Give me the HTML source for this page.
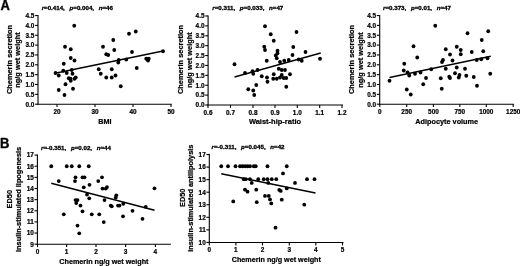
<!DOCTYPE html>
<html><head><meta charset="utf-8"><title>Figure</title>
<style>
html,body{margin:0;padding:0;background:#fff;}
body{width:520px;height:266px;overflow:hidden;}
svg{display:block;font-family:"Liberation Sans",sans-serif;font-weight:bold;fill:#000;}
text{stroke:#000;stroke-width:0.22px;stroke-linejoin:round;}
</style></head><body>
<svg width="520" height="266" viewBox="0 0 520 266">
<defs><filter id="bl" x="0" y="0" width="520" height="266" filterUnits="userSpaceOnUse"><feGaussianBlur stdDeviation="0.3"/></filter></defs>
<rect width="520" height="266" fill="#fff"/>
<g filter="url(#bl)">
<line x1="38" y1="15.0" x2="38" y2="104.75" stroke="#000" stroke-width="1.1"/>
<line x1="37.45" y1="104.2" x2="171.8" y2="104.2" stroke="#000" stroke-width="1.1"/>
<line x1="57" y1="104.2" x2="57" y2="107.10000000000001" stroke="#000" stroke-width="1.1"/>
<text transform="translate(57 113.7)" font-size="6.4" text-anchor="middle">20</text>
<line x1="95" y1="104.2" x2="95" y2="107.10000000000001" stroke="#000" stroke-width="1.1"/>
<text transform="translate(95 113.7)" font-size="6.4" text-anchor="middle">30</text>
<line x1="133" y1="104.2" x2="133" y2="107.10000000000001" stroke="#000" stroke-width="1.1"/>
<text transform="translate(133 113.7)" font-size="6.4" text-anchor="middle">40</text>
<line x1="171" y1="104.2" x2="171" y2="107.10000000000001" stroke="#000" stroke-width="1.1"/>
<text transform="translate(171 113.7)" font-size="6.4" text-anchor="middle">50</text>
<line x1="35.1" y1="104.2" x2="38" y2="104.2" stroke="#000" stroke-width="1.1"/>
<text transform="translate(34.4 106.5)" font-size="6.4" text-anchor="end">0.0</text>
<line x1="35.1" y1="94.35000000000001" x2="38" y2="94.35000000000001" stroke="#000" stroke-width="1.1"/>
<text transform="translate(34.4 96.65)" font-size="6.4" text-anchor="end">0.5</text>
<line x1="35.1" y1="84.5" x2="38" y2="84.5" stroke="#000" stroke-width="1.1"/>
<text transform="translate(34.4 86.8)" font-size="6.4" text-anchor="end">1.0</text>
<line x1="35.1" y1="74.65" x2="38" y2="74.65" stroke="#000" stroke-width="1.1"/>
<text transform="translate(34.4 76.95)" font-size="6.4" text-anchor="end">1.5</text>
<line x1="35.1" y1="64.80000000000001" x2="38" y2="64.80000000000001" stroke="#000" stroke-width="1.1"/>
<text transform="translate(34.4 67.10000000000001)" font-size="6.4" text-anchor="end">2.0</text>
<line x1="35.1" y1="54.95" x2="38" y2="54.95" stroke="#000" stroke-width="1.1"/>
<text transform="translate(34.4 57.25)" font-size="6.4" text-anchor="end">2.5</text>
<line x1="35.1" y1="45.10000000000001" x2="38" y2="45.10000000000001" stroke="#000" stroke-width="1.1"/>
<text transform="translate(34.4 47.400000000000006)" font-size="6.4" text-anchor="end">3.0</text>
<line x1="35.1" y1="35.25" x2="38" y2="35.25" stroke="#000" stroke-width="1.1"/>
<text transform="translate(34.4 37.55)" font-size="6.4" text-anchor="end">3.5</text>
<line x1="35.1" y1="25.400000000000006" x2="38" y2="25.400000000000006" stroke="#000" stroke-width="1.1"/>
<text transform="translate(34.4 27.700000000000006)" font-size="6.4" text-anchor="end">4.0</text>
<line x1="35.1" y1="15.550000000000011" x2="38" y2="15.550000000000011" stroke="#000" stroke-width="1.1"/>
<text transform="translate(34.4 17.850000000000012)" font-size="6.4" text-anchor="end">4.5</text>
<circle cx="74.25" cy="25.75" r="1.9"/>
<circle cx="65" cy="46.75" r="1.9"/>
<circle cx="70.75" cy="49.25" r="1.9"/>
<circle cx="70.75" cy="58" r="1.9"/>
<circle cx="74.5" cy="60.5" r="1.9"/>
<circle cx="63.75" cy="63.75" r="1.9"/>
<circle cx="129" cy="33.75" r="1.9"/>
<circle cx="113.25" cy="40" r="1.9"/>
<circle cx="103" cy="46.75" r="1.9"/>
<circle cx="114.25" cy="50" r="1.9"/>
<circle cx="106.25" cy="54.25" r="1.9"/>
<circle cx="108.25" cy="55" r="1.9"/>
<circle cx="118.75" cy="60" r="1.9"/>
<circle cx="126.25" cy="59.5" r="1.9"/>
<circle cx="118.25" cy="62.5" r="1.9"/>
<circle cx="135.75" cy="31.5" r="1.9"/>
<circle cx="132" cy="52" r="1.9"/>
<circle cx="163" cy="51.25" r="1.9"/>
<circle cx="146.25" cy="58.75" r="1.9"/>
<circle cx="148.75" cy="58.75" r="1.9"/>
<circle cx="148" cy="60.5" r="1.9"/>
<circle cx="55.5" cy="73" r="1.9"/>
<circle cx="58.75" cy="75.5" r="1.9"/>
<circle cx="63.25" cy="70.75" r="1.9"/>
<circle cx="66.75" cy="73" r="1.9"/>
<circle cx="71.75" cy="70" r="1.9"/>
<circle cx="72.5" cy="73.75" r="1.9"/>
<circle cx="75.75" cy="77.5" r="1.9"/>
<circle cx="74.5" cy="78.75" r="1.9"/>
<circle cx="68.75" cy="78.25" r="1.9"/>
<circle cx="70.75" cy="80.75" r="1.9"/>
<circle cx="70.5" cy="78.6" r="1.9"/>
<circle cx="65.5" cy="84.25" r="1.9"/>
<circle cx="73" cy="88.75" r="1.9"/>
<circle cx="58.75" cy="90" r="1.9"/>
<circle cx="64.5" cy="95" r="1.9"/>
<circle cx="98.75" cy="69.25" r="1.9"/>
<circle cx="100.75" cy="73.75" r="1.9"/>
<circle cx="111.75" cy="69.25" r="1.9"/>
<circle cx="106.25" cy="77.5" r="1.9"/>
<circle cx="111.75" cy="77.5" r="1.9"/>
<circle cx="115.5" cy="75.5" r="1.9"/>
<circle cx="120.75" cy="86.25" r="1.9"/>
<circle cx="136.75" cy="68" r="1.9"/>
<line x1="54" y1="73.5" x2="163" y2="51" stroke="#000" stroke-width="1.3"/>
<text transform="translate(104.8 124.0)" font-size="7.2" text-anchor="middle">BMI</text>
<text transform="translate(12.4 59.5) rotate(-90) scale(1.09 1)" font-size="6.8" text-anchor="middle">Chemerin secretion</text>
<text transform="translate(20.0 60.0) rotate(-90) scale(1.09 1)" font-size="6.8" text-anchor="middle">ng/g wet weight</text>
<text transform="translate(77.3 10.4) scale(1.105 1)" font-size="5.6" text-anchor="middle" style="stroke-width:0.3px"><tspan font-style="italic">r</tspan>=0.414,&#160; <tspan font-style="italic" dx="1.1">p</tspan>=0.004,&#160; <tspan font-style="italic" dx="1.1">n</tspan>=46</text>
<line x1="208.1" y1="15.5" x2="208.1" y2="105.55" stroke="#000" stroke-width="1.1"/>
<line x1="207.54999999999998" y1="105" x2="343.0" y2="105" stroke="#000" stroke-width="1.1"/>
<line x1="208" y1="105" x2="208" y2="107.9" stroke="#000" stroke-width="1.1"/>
<text transform="translate(208 114.5)" font-size="6.4" text-anchor="middle">0.6</text>
<line x1="230.5" y1="105" x2="230.5" y2="107.9" stroke="#000" stroke-width="1.1"/>
<text transform="translate(230.5 114.5)" font-size="6.4" text-anchor="middle">0.7</text>
<line x1="253" y1="105" x2="253" y2="107.9" stroke="#000" stroke-width="1.1"/>
<text transform="translate(253 114.5)" font-size="6.4" text-anchor="middle">0.8</text>
<line x1="275" y1="105" x2="275" y2="107.9" stroke="#000" stroke-width="1.1"/>
<text transform="translate(275 114.5)" font-size="6.4" text-anchor="middle">0.9</text>
<line x1="297.3" y1="105" x2="297.3" y2="107.9" stroke="#000" stroke-width="1.1"/>
<text transform="translate(297.3 114.5)" font-size="6.4" text-anchor="middle">1.0</text>
<line x1="319.7" y1="105" x2="319.7" y2="107.9" stroke="#000" stroke-width="1.1"/>
<text transform="translate(319.7 114.5)" font-size="6.4" text-anchor="middle">1.1</text>
<line x1="342" y1="105" x2="342" y2="107.9" stroke="#000" stroke-width="1.1"/>
<text transform="translate(342 114.5)" font-size="6.4" text-anchor="middle">1.2</text>
<line x1="205.2" y1="105.0" x2="208.1" y2="105.0" stroke="#000" stroke-width="1.1"/>
<text transform="translate(204.5 107.3)" font-size="6.4" text-anchor="end">0.0</text>
<line x1="205.2" y1="95.11" x2="208.1" y2="95.11" stroke="#000" stroke-width="1.1"/>
<text transform="translate(204.5 97.41)" font-size="6.4" text-anchor="end">0.5</text>
<line x1="205.2" y1="85.22" x2="208.1" y2="85.22" stroke="#000" stroke-width="1.1"/>
<text transform="translate(204.5 87.52)" font-size="6.4" text-anchor="end">1.0</text>
<line x1="205.2" y1="75.33" x2="208.1" y2="75.33" stroke="#000" stroke-width="1.1"/>
<text transform="translate(204.5 77.63)" font-size="6.4" text-anchor="end">1.5</text>
<line x1="205.2" y1="65.44" x2="208.1" y2="65.44" stroke="#000" stroke-width="1.1"/>
<text transform="translate(204.5 67.74)" font-size="6.4" text-anchor="end">2.0</text>
<line x1="205.2" y1="55.55" x2="208.1" y2="55.55" stroke="#000" stroke-width="1.1"/>
<text transform="translate(204.5 57.849999999999994)" font-size="6.4" text-anchor="end">2.5</text>
<line x1="205.2" y1="45.66" x2="208.1" y2="45.66" stroke="#000" stroke-width="1.1"/>
<text transform="translate(204.5 47.959999999999994)" font-size="6.4" text-anchor="end">3.0</text>
<line x1="205.2" y1="35.769999999999996" x2="208.1" y2="35.769999999999996" stroke="#000" stroke-width="1.1"/>
<text transform="translate(204.5 38.06999999999999)" font-size="6.4" text-anchor="end">3.5</text>
<line x1="205.2" y1="25.879999999999995" x2="208.1" y2="25.879999999999995" stroke="#000" stroke-width="1.1"/>
<text transform="translate(204.5 28.179999999999996)" font-size="6.4" text-anchor="end">4.0</text>
<line x1="205.2" y1="15.989999999999995" x2="208.1" y2="15.989999999999995" stroke="#000" stroke-width="1.1"/>
<text transform="translate(204.5 18.289999999999996)" font-size="6.4" text-anchor="end">4.5</text>
<circle cx="265" cy="26.25" r="1.9"/>
<circle cx="270.75" cy="34.25" r="1.9"/>
<circle cx="273.75" cy="40.75" r="1.9"/>
<circle cx="264.25" cy="46.75" r="1.9"/>
<circle cx="265" cy="50" r="1.9"/>
<circle cx="277.5" cy="50.75" r="1.9"/>
<circle cx="277.5" cy="53.25" r="1.9"/>
<circle cx="275.75" cy="55.5" r="1.9"/>
<circle cx="276.75" cy="58.25" r="1.9"/>
<circle cx="266.75" cy="60.75" r="1.9"/>
<circle cx="296.5" cy="32" r="1.9"/>
<circle cx="293.25" cy="47" r="1.9"/>
<circle cx="292.5" cy="55" r="1.9"/>
<circle cx="280" cy="62" r="1.9"/>
<circle cx="284.25" cy="60.75" r="1.9"/>
<circle cx="288.75" cy="60" r="1.9"/>
<circle cx="234.5" cy="64.25" r="1.9"/>
<circle cx="298.75" cy="59.5" r="1.9"/>
<circle cx="305.5" cy="52" r="1.9"/>
<circle cx="301.75" cy="60.75" r="1.9"/>
<circle cx="320" cy="58.75" r="1.9"/>
<circle cx="245" cy="73" r="1.9"/>
<circle cx="252.5" cy="71.25" r="1.9"/>
<circle cx="253.25" cy="73.75" r="1.9"/>
<circle cx="257.5" cy="70" r="1.9"/>
<circle cx="261.75" cy="76.25" r="1.9"/>
<circle cx="267" cy="77.5" r="1.9"/>
<circle cx="267.5" cy="81.75" r="1.9"/>
<circle cx="256.25" cy="85" r="1.9"/>
<circle cx="248.25" cy="89.25" r="1.9"/>
<circle cx="253.25" cy="90.5" r="1.9"/>
<circle cx="254.25" cy="95" r="1.9"/>
<circle cx="273.75" cy="74.25" r="1.9"/>
<circle cx="273.25" cy="78.75" r="1.9"/>
<circle cx="276.75" cy="78.75" r="1.9"/>
<circle cx="280" cy="77.5" r="1.9"/>
<circle cx="281.75" cy="75" r="1.9"/>
<circle cx="283.75" cy="78" r="1.9"/>
<circle cx="286.25" cy="78" r="1.9"/>
<circle cx="278.75" cy="68.75" r="1.9"/>
<circle cx="281.75" cy="70" r="1.9"/>
<circle cx="285" cy="70" r="1.9"/>
<circle cx="290" cy="74.25" r="1.9"/>
<circle cx="286.25" cy="86.75" r="1.9"/>
<line x1="234.5" y1="77" x2="320.75" y2="53" stroke="#000" stroke-width="1.3"/>
<text transform="translate(275 124.0)" font-size="7.5" text-anchor="middle">Waist-hip-ratio</text>
<text transform="translate(182.7 59.5) rotate(-90) scale(1.09 1)" font-size="6.8" text-anchor="middle">Chemerin secretion</text>
<text transform="translate(192.0 60.0) rotate(-90) scale(1.09 1)" font-size="6.8" text-anchor="middle">ng/g wet weight</text>
<text transform="translate(247.8 10.3) scale(1.105 1)" font-size="5.6" text-anchor="middle" style="stroke-width:0.3px"><tspan font-style="italic">r</tspan>=0.311,&#160; <tspan font-style="italic" dx="1.1">p</tspan>=0.033,&#160; <tspan font-style="italic" dx="1.1">n</tspan>=47</text>
<line x1="379.7" y1="15.0" x2="379.7" y2="104.75" stroke="#000" stroke-width="1.1"/>
<line x1="379.15" y1="104.2" x2="514.1" y2="104.2" stroke="#000" stroke-width="1.1"/>
<line x1="379.8" y1="104.2" x2="379.8" y2="107.10000000000001" stroke="#000" stroke-width="1.1"/>
<text transform="translate(379.8 113.7)" font-size="6.4" text-anchor="middle">0</text>
<line x1="406.7" y1="104.2" x2="406.7" y2="107.10000000000001" stroke="#000" stroke-width="1.1"/>
<text transform="translate(406.7 113.7)" font-size="6.4" text-anchor="middle">250</text>
<line x1="433.4" y1="104.2" x2="433.4" y2="107.10000000000001" stroke="#000" stroke-width="1.1"/>
<text transform="translate(433.4 113.7)" font-size="6.4" text-anchor="middle">500</text>
<line x1="459.8" y1="104.2" x2="459.8" y2="107.10000000000001" stroke="#000" stroke-width="1.1"/>
<text transform="translate(459.8 113.7)" font-size="6.4" text-anchor="middle">750</text>
<line x1="486.3" y1="104.2" x2="486.3" y2="107.10000000000001" stroke="#000" stroke-width="1.1"/>
<text transform="translate(486.3 113.7)" font-size="6.4" text-anchor="middle">1000</text>
<line x1="513.2" y1="104.2" x2="513.2" y2="107.10000000000001" stroke="#000" stroke-width="1.1"/>
<text transform="translate(513.2 113.7)" font-size="6.4" text-anchor="middle">1250</text>
<line x1="376.8" y1="104.2" x2="379.7" y2="104.2" stroke="#000" stroke-width="1.1"/>
<text transform="translate(376.09999999999997 106.5)" font-size="6.4" text-anchor="end">0.0</text>
<line x1="376.8" y1="94.35000000000001" x2="379.7" y2="94.35000000000001" stroke="#000" stroke-width="1.1"/>
<text transform="translate(376.09999999999997 96.65)" font-size="6.4" text-anchor="end">0.5</text>
<line x1="376.8" y1="84.5" x2="379.7" y2="84.5" stroke="#000" stroke-width="1.1"/>
<text transform="translate(376.09999999999997 86.8)" font-size="6.4" text-anchor="end">1.0</text>
<line x1="376.8" y1="74.65" x2="379.7" y2="74.65" stroke="#000" stroke-width="1.1"/>
<text transform="translate(376.09999999999997 76.95)" font-size="6.4" text-anchor="end">1.5</text>
<line x1="376.8" y1="64.80000000000001" x2="379.7" y2="64.80000000000001" stroke="#000" stroke-width="1.1"/>
<text transform="translate(376.09999999999997 67.10000000000001)" font-size="6.4" text-anchor="end">2.0</text>
<line x1="376.8" y1="54.95" x2="379.7" y2="54.95" stroke="#000" stroke-width="1.1"/>
<text transform="translate(376.09999999999997 57.25)" font-size="6.4" text-anchor="end">2.5</text>
<line x1="376.8" y1="45.10000000000001" x2="379.7" y2="45.10000000000001" stroke="#000" stroke-width="1.1"/>
<text transform="translate(376.09999999999997 47.400000000000006)" font-size="6.4" text-anchor="end">3.0</text>
<line x1="376.8" y1="35.25" x2="379.7" y2="35.25" stroke="#000" stroke-width="1.1"/>
<text transform="translate(376.09999999999997 37.55)" font-size="6.4" text-anchor="end">3.5</text>
<line x1="376.8" y1="25.400000000000006" x2="379.7" y2="25.400000000000006" stroke="#000" stroke-width="1.1"/>
<text transform="translate(376.09999999999997 27.700000000000006)" font-size="6.4" text-anchor="end">4.0</text>
<line x1="376.8" y1="15.550000000000011" x2="379.7" y2="15.550000000000011" stroke="#000" stroke-width="1.1"/>
<text transform="translate(376.09999999999997 17.850000000000012)" font-size="6.4" text-anchor="end">4.5</text>
<circle cx="435.25" cy="25.75" r="1.9"/>
<circle cx="413.5" cy="46.25" r="1.9"/>
<circle cx="417.25" cy="57.5" r="1.9"/>
<circle cx="404.25" cy="63.75" r="1.9"/>
<circle cx="467.5" cy="33.25" r="1.9"/>
<circle cx="456.75" cy="46.75" r="1.9"/>
<circle cx="445.75" cy="49.25" r="1.9"/>
<circle cx="460.75" cy="50" r="1.9"/>
<circle cx="450" cy="54.5" r="1.9"/>
<circle cx="460.75" cy="54.25" r="1.9"/>
<circle cx="443" cy="60" r="1.9"/>
<circle cx="442" cy="62" r="1.9"/>
<circle cx="452.5" cy="60.5" r="1.9"/>
<circle cx="488.25" cy="31.25" r="1.9"/>
<circle cx="481.75" cy="40" r="1.9"/>
<circle cx="471.75" cy="52" r="1.9"/>
<circle cx="483.25" cy="51.25" r="1.9"/>
<circle cx="476.75" cy="60" r="1.9"/>
<circle cx="481.25" cy="59.25" r="1.9"/>
<circle cx="487.5" cy="58.25" r="1.9"/>
<circle cx="403.75" cy="70.5" r="1.9"/>
<circle cx="407.5" cy="72.5" r="1.9"/>
<circle cx="409.25" cy="75.5" r="1.9"/>
<circle cx="415" cy="73.75" r="1.9"/>
<circle cx="420.5" cy="72.5" r="1.9"/>
<circle cx="431.25" cy="69.25" r="1.9"/>
<circle cx="389.5" cy="80.75" r="1.9"/>
<circle cx="426" cy="78" r="1.9"/>
<circle cx="423.25" cy="84.25" r="1.9"/>
<circle cx="406.75" cy="89.5" r="1.9"/>
<circle cx="410.75" cy="94.5" r="1.9"/>
<circle cx="440.75" cy="78.25" r="1.9"/>
<circle cx="441.75" cy="88.75" r="1.9"/>
<circle cx="445.75" cy="68.75" r="1.9"/>
<circle cx="449.25" cy="76.75" r="1.9"/>
<circle cx="450" cy="78" r="1.9"/>
<circle cx="455" cy="73.25" r="1.9"/>
<circle cx="456.75" cy="67.5" r="1.9"/>
<circle cx="459.5" cy="75" r="1.9"/>
<circle cx="458.75" cy="77.5" r="1.9"/>
<circle cx="465" cy="68.75" r="1.9"/>
<circle cx="466.25" cy="75.75" r="1.9"/>
<circle cx="473.75" cy="77" r="1.9"/>
<circle cx="477" cy="85.75" r="1.9"/>
<circle cx="490.25" cy="73.75" r="1.9"/>
<line x1="389.5" y1="77.5" x2="490.75" y2="56.25" stroke="#000" stroke-width="1.3"/>
<text transform="translate(446.7 124.0)" font-size="7.3" text-anchor="middle">Adipocyte volume</text>
<text transform="translate(354.4 59.5) rotate(-90) scale(1.09 1)" font-size="6.8" text-anchor="middle">Chemerin secretion</text>
<text transform="translate(363.0 60.0) rotate(-90) scale(1.09 1)" font-size="6.8" text-anchor="middle">ng/g wet weight</text>
<text transform="translate(417 10.4) scale(1.105 1)" font-size="5.6" text-anchor="middle" style="stroke-width:0.3px"><tspan font-style="italic">r</tspan>=0.373,&#160; <tspan font-style="italic" dx="1.1">p</tspan>=0.01,&#160; <tspan font-style="italic" dx="1.1">n</tspan>=47</text>
<line x1="37.4" y1="154.5" x2="37.4" y2="244.75" stroke="#000" stroke-width="1.1"/>
<line x1="36.85" y1="244.2" x2="170.9" y2="244.2" stroke="#000" stroke-width="1.1"/>
<line x1="37.5" y1="244.2" x2="37.5" y2="247.1" stroke="#000" stroke-width="1.1"/>
<text transform="translate(37.5 253.7)" font-size="6.4" text-anchor="middle">0</text>
<line x1="66.6" y1="244.2" x2="66.6" y2="247.1" stroke="#000" stroke-width="1.1"/>
<text transform="translate(66.6 253.7)" font-size="6.4" text-anchor="middle">1</text>
<line x1="96" y1="244.2" x2="96" y2="247.1" stroke="#000" stroke-width="1.1"/>
<text transform="translate(96 253.7)" font-size="6.4" text-anchor="middle">2</text>
<line x1="125.6" y1="244.2" x2="125.6" y2="247.1" stroke="#000" stroke-width="1.1"/>
<text transform="translate(125.6 253.7)" font-size="6.4" text-anchor="middle">3</text>
<line x1="155.4" y1="244.2" x2="155.4" y2="247.1" stroke="#000" stroke-width="1.1"/>
<text transform="translate(155.4 253.7)" font-size="6.4" text-anchor="middle">4</text>
<line x1="34.5" y1="244.2" x2="37.4" y2="244.2" stroke="#000" stroke-width="1.1"/>
<text transform="translate(33.8 246.5)" font-size="6.4" text-anchor="end">9</text>
<line x1="34.5" y1="233.06" x2="37.4" y2="233.06" stroke="#000" stroke-width="1.1"/>
<text transform="translate(33.8 235.36)" font-size="6.4" text-anchor="end">10</text>
<line x1="34.5" y1="221.92" x2="37.4" y2="221.92" stroke="#000" stroke-width="1.1"/>
<text transform="translate(33.8 224.22)" font-size="6.4" text-anchor="end">11</text>
<line x1="34.5" y1="210.77999999999997" x2="37.4" y2="210.77999999999997" stroke="#000" stroke-width="1.1"/>
<text transform="translate(33.8 213.07999999999998)" font-size="6.4" text-anchor="end">12</text>
<line x1="34.5" y1="199.64" x2="37.4" y2="199.64" stroke="#000" stroke-width="1.1"/>
<text transform="translate(33.8 201.94)" font-size="6.4" text-anchor="end">13</text>
<line x1="34.5" y1="188.5" x2="37.4" y2="188.5" stroke="#000" stroke-width="1.1"/>
<text transform="translate(33.8 190.8)" font-size="6.4" text-anchor="end">14</text>
<line x1="34.5" y1="177.35999999999999" x2="37.4" y2="177.35999999999999" stroke="#000" stroke-width="1.1"/>
<text transform="translate(33.8 179.66)" font-size="6.4" text-anchor="end">15</text>
<line x1="34.5" y1="166.21999999999997" x2="37.4" y2="166.21999999999997" stroke="#000" stroke-width="1.1"/>
<text transform="translate(33.8 168.51999999999998)" font-size="6.4" text-anchor="end">16</text>
<line x1="34.5" y1="155.07999999999998" x2="37.4" y2="155.07999999999998" stroke="#000" stroke-width="1.1"/>
<text transform="translate(33.8 157.38)" font-size="6.4" text-anchor="end">17</text>
<circle cx="51.25" cy="166.25" r="1.9"/>
<circle cx="66.75" cy="166.25" r="1.9"/>
<circle cx="71.75" cy="166.25" r="1.9"/>
<circle cx="79.25" cy="166.25" r="1.9"/>
<circle cx="88.75" cy="166.25" r="1.9"/>
<circle cx="58.75" cy="181.05" r="1.9"/>
<circle cx="75.5" cy="177.3" r="1.9"/>
<circle cx="75" cy="181.05" r="1.9"/>
<circle cx="82.5" cy="177.3" r="1.9"/>
<circle cx="84.5" cy="177.3" r="1.9"/>
<circle cx="83.75" cy="187.3" r="1.9"/>
<circle cx="89.5" cy="184.8" r="1.9"/>
<circle cx="98.25" cy="181.05" r="1.9"/>
<circle cx="102" cy="177.3" r="1.9"/>
<circle cx="102.5" cy="188.55" r="1.9"/>
<circle cx="105.75" cy="188.55" r="1.9"/>
<circle cx="107" cy="187.05" r="1.9"/>
<circle cx="87" cy="194.55" r="1.9"/>
<circle cx="116.25" cy="195.3" r="1.9"/>
<circle cx="154.5" cy="188.3" r="1.9"/>
<circle cx="75.5" cy="200.05" r="1.9"/>
<circle cx="77.5" cy="200.05" r="1.9"/>
<circle cx="89.25" cy="198.3" r="1.9"/>
<circle cx="76.25" cy="203.05" r="1.9"/>
<circle cx="80.5" cy="205.55" r="1.9"/>
<circle cx="82.5" cy="211.3" r="1.9"/>
<circle cx="63.75" cy="214.3" r="1.9"/>
<circle cx="91.75" cy="214.3" r="1.9"/>
<circle cx="99.25" cy="214.3" r="1.9"/>
<circle cx="77.5" cy="225.55" r="1.9"/>
<circle cx="79.25" cy="233.3" r="1.9"/>
<circle cx="103.75" cy="222.05" r="1.9"/>
<circle cx="104.5" cy="200.05" r="1.9"/>
<circle cx="110.75" cy="205.55" r="1.9"/>
<circle cx="111.75" cy="206.3" r="1.9"/>
<circle cx="115.75" cy="197.55" r="1.9"/>
<circle cx="118" cy="205.55" r="1.9"/>
<circle cx="119.5" cy="205.55" r="1.9"/>
<circle cx="123.25" cy="203.8" r="1.9"/>
<circle cx="123" cy="216.3" r="1.9"/>
<circle cx="132.5" cy="210.8" r="1.9"/>
<circle cx="142.5" cy="218.8" r="1.9"/>
<circle cx="145.75" cy="206.8" r="1.9"/>
<line x1="51.25" y1="183.25" x2="154.5" y2="210.25" stroke="#000" stroke-width="1.3"/>
<text transform="translate(103.9 263.8)" font-size="7.2" text-anchor="middle">Chemerin ng/g wet weight</text>
<text transform="translate(11.5 199.2) rotate(-90) scale(0.92 1)" font-size="8" text-anchor="middle">ED50</text>
<text transform="translate(20.5 199.4) rotate(-90) scale(1.08 1)" font-size="6.8" text-anchor="middle">insulin-stimulated lipogenesis</text>
<text transform="translate(76 150.2) scale(1.105 1)" font-size="5.6" text-anchor="middle" style="stroke-width:0.3px"><tspan font-style="italic">r</tspan>=-0.351,&#160; <tspan font-style="italic" dx="1.1">p</tspan>=0.02,&#160; <tspan font-style="italic" dx="1.1">n</tspan>=44</text>
<line x1="209.3" y1="153.8" x2="209.3" y2="243.05" stroke="#000" stroke-width="1.1"/>
<line x1="208.75" y1="242.5" x2="343.5" y2="242.5" stroke="#000" stroke-width="1.1"/>
<line x1="209.3" y1="242.5" x2="209.3" y2="245.4" stroke="#000" stroke-width="1.1"/>
<text transform="translate(209.3 252.0)" font-size="6.4" text-anchor="middle">0</text>
<line x1="235.9" y1="242.5" x2="235.9" y2="245.4" stroke="#000" stroke-width="1.1"/>
<text transform="translate(235.9 252.0)" font-size="6.4" text-anchor="middle">1</text>
<line x1="262.5" y1="242.5" x2="262.5" y2="245.4" stroke="#000" stroke-width="1.1"/>
<text transform="translate(262.5 252.0)" font-size="6.4" text-anchor="middle">2</text>
<line x1="289.3" y1="242.5" x2="289.3" y2="245.4" stroke="#000" stroke-width="1.1"/>
<text transform="translate(289.3 252.0)" font-size="6.4" text-anchor="middle">3</text>
<line x1="315.8" y1="242.5" x2="315.8" y2="245.4" stroke="#000" stroke-width="1.1"/>
<text transform="translate(315.8 252.0)" font-size="6.4" text-anchor="middle">4</text>
<line x1="342.5" y1="242.5" x2="342.5" y2="245.4" stroke="#000" stroke-width="1.1"/>
<text transform="translate(342.5 252.0)" font-size="6.4" text-anchor="middle">5</text>
<line x1="206.4" y1="242.4" x2="209.3" y2="242.4" stroke="#000" stroke-width="1.1"/>
<text transform="translate(205.70000000000002 244.70000000000002)" font-size="6.4" text-anchor="end">10</text>
<line x1="206.4" y1="229.85" x2="209.3" y2="229.85" stroke="#000" stroke-width="1.1"/>
<text transform="translate(205.70000000000002 232.15)" font-size="6.4" text-anchor="end">11</text>
<line x1="206.4" y1="217.3" x2="209.3" y2="217.3" stroke="#000" stroke-width="1.1"/>
<text transform="translate(205.70000000000002 219.60000000000002)" font-size="6.4" text-anchor="end">12</text>
<line x1="206.4" y1="204.75" x2="209.3" y2="204.75" stroke="#000" stroke-width="1.1"/>
<text transform="translate(205.70000000000002 207.05)" font-size="6.4" text-anchor="end">13</text>
<line x1="206.4" y1="192.2" x2="209.3" y2="192.2" stroke="#000" stroke-width="1.1"/>
<text transform="translate(205.70000000000002 194.5)" font-size="6.4" text-anchor="end">14</text>
<line x1="206.4" y1="179.65" x2="209.3" y2="179.65" stroke="#000" stroke-width="1.1"/>
<text transform="translate(205.70000000000002 181.95000000000002)" font-size="6.4" text-anchor="end">15</text>
<line x1="206.4" y1="167.1" x2="209.3" y2="167.1" stroke="#000" stroke-width="1.1"/>
<text transform="translate(205.70000000000002 169.4)" font-size="6.4" text-anchor="end">16</text>
<line x1="206.4" y1="154.55" x2="209.3" y2="154.55" stroke="#000" stroke-width="1.1"/>
<text transform="translate(205.70000000000002 156.85000000000002)" font-size="6.4" text-anchor="end">17</text>
<circle cx="221.25" cy="166.25" r="1.9"/>
<circle cx="228" cy="166.25" r="1.9"/>
<circle cx="235.5" cy="166.25" r="1.9"/>
<circle cx="240" cy="166.25" r="1.9"/>
<circle cx="242.5" cy="166.25" r="1.9"/>
<circle cx="245" cy="166.25" r="1.9"/>
<circle cx="247.5" cy="166.25" r="1.9"/>
<circle cx="250" cy="166.25" r="1.9"/>
<circle cx="253.75" cy="166.25" r="1.9"/>
<circle cx="255.75" cy="166.25" r="1.9"/>
<circle cx="267.5" cy="166.25" r="1.9"/>
<circle cx="286.75" cy="166.25" r="1.9"/>
<circle cx="243.75" cy="179.15" r="1.9"/>
<circle cx="245.75" cy="179.15" r="1.9"/>
<circle cx="250" cy="179.15" r="1.9"/>
<circle cx="258.25" cy="179.15" r="1.9"/>
<circle cx="263.75" cy="179.15" r="1.9"/>
<circle cx="267.5" cy="179.15" r="1.9"/>
<circle cx="271.75" cy="179.15" r="1.9"/>
<circle cx="276.25" cy="179.15" r="1.9"/>
<circle cx="307" cy="179.15" r="1.9"/>
<circle cx="314.5" cy="179.15" r="1.9"/>
<circle cx="283" cy="173.4" r="1.9"/>
<circle cx="295" cy="182.9" r="1.9"/>
<circle cx="251.75" cy="182.9" r="1.9"/>
<circle cx="268.25" cy="182.9" r="1.9"/>
<circle cx="245" cy="189.65" r="1.9"/>
<circle cx="247.5" cy="191.65" r="1.9"/>
<circle cx="256.25" cy="189.65" r="1.9"/>
<circle cx="279.25" cy="189.9" r="1.9"/>
<circle cx="280.75" cy="190.9" r="1.9"/>
<circle cx="286.75" cy="188.4" r="1.9"/>
<circle cx="265" cy="195.9" r="1.9"/>
<circle cx="268.75" cy="195.9" r="1.9"/>
<circle cx="233.25" cy="201.4" r="1.9"/>
<circle cx="256.75" cy="202.15" r="1.9"/>
<circle cx="270" cy="199.4" r="1.9"/>
<circle cx="271.25" cy="203.4" r="1.9"/>
<circle cx="281.75" cy="199.65" r="1.9"/>
<circle cx="275.5" cy="227.65" r="1.9"/>
<circle cx="304.25" cy="204.65" r="1.9"/>
<line x1="221.25" y1="173.75" x2="315.5" y2="193" stroke="#000" stroke-width="1.3"/>
<text transform="translate(276.3 262.3)" font-size="7.2" text-anchor="middle">Chemerin ng/g wet weight</text>
<text transform="translate(185 197.8) rotate(-90) scale(0.92 1)" font-size="8" text-anchor="middle">ED50</text>
<text transform="translate(193.4 198.2) rotate(-90) scale(1.08 1)" font-size="6.8" text-anchor="middle">insulin-stimulated antilipolysis</text>
<text transform="translate(248 149.4) scale(1.105 1)" font-size="5.6" text-anchor="middle" style="stroke-width:0.3px"><tspan font-style="italic">r</tspan>=-0.311,&#160; <tspan font-style="italic" dx="1.1">p</tspan>=0.045,&#160; <tspan font-style="italic" dx="1.1">n</tspan>=42</text>
<text transform="translate(0.4 9.8) scale(0.9 1)" font-size="14.4" text-anchor="start" style="stroke-width:0.4px">A</text>
<text transform="translate(0.0 148.2) scale(0.9 1)" font-size="14.4" text-anchor="start" style="stroke-width:0.4px">B</text>
</g>
</svg>
</body></html>
